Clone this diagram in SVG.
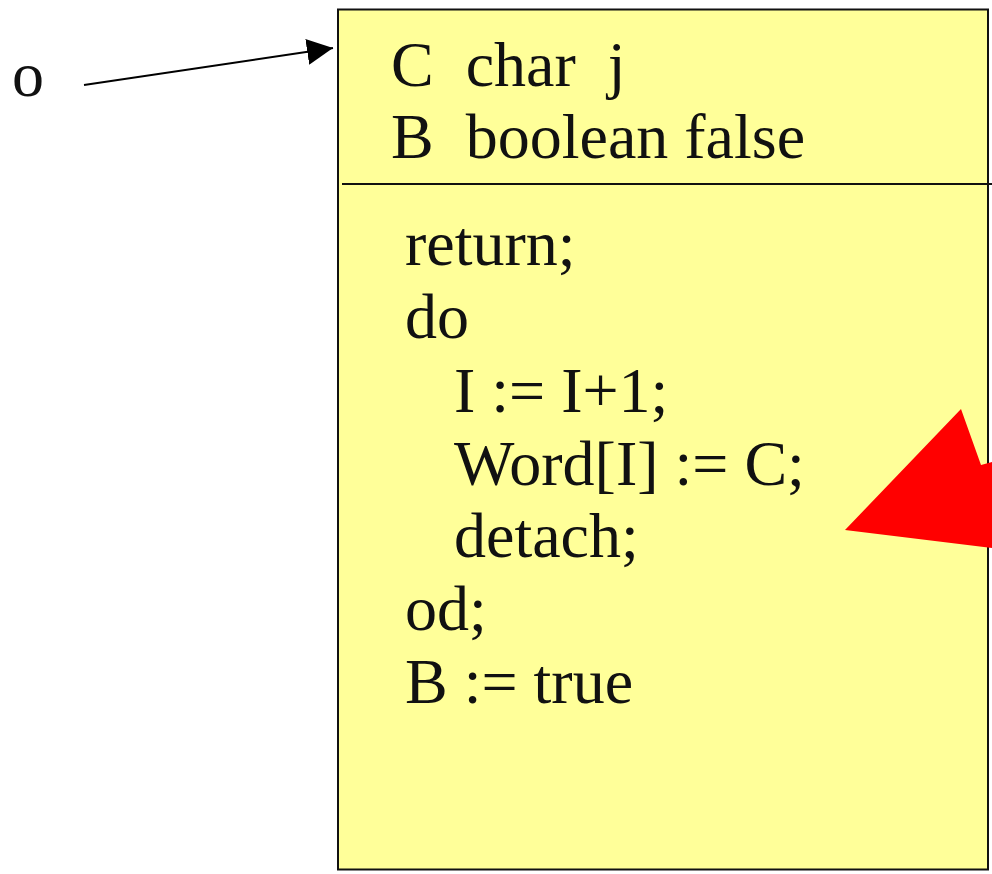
<svg xmlns="http://www.w3.org/2000/svg" width="992" height="874" viewBox="0 0 992 874">
<style>
text{font-family:"Liberation Serif","Times New Roman",serif;font-size:64px;fill:#111;white-space:pre}
.box{fill:#ffff99;stroke:#111;stroke-width:2}
.conn{stroke:#000;stroke-width:2;fill:none}
</style>
<defs>
<marker id="ah2" viewBox="0 0 26 26" markerWidth="26" markerHeight="26" refX="26" refY="13" orient="auto" markerUnits="userSpaceOnUse">
<path d="M0,0 L26,13 L0,26 Z" fill="#000"/>
</marker>
</defs>
<g id="label-o"><text x="12" y="96" xml:space="preserve">o</text></g>
<g id="object">
<rect class="box" x="338" y="9.5" width="650" height="860"/>
<line x1="342" y1="184" x2="992" y2="184" stroke="#111" stroke-width="2"/>
<text x="391" y="86" xml:space="preserve">C  char  j</text>
<text x="391" y="158" xml:space="preserve">B  boolean false</text>
<text x="405" y="265" xml:space="preserve">return;</text>
<text x="405" y="338" xml:space="preserve">do</text>
<text x="454" y="412" xml:space="preserve">I := I+1;</text>
<text x="454" y="485" xml:space="preserve">Word[I] := C;</text>
<text x="454" y="557" xml:space="preserve">detach;</text>
<text x="405" y="630" xml:space="preserve">od;</text>
<text x="405" y="703" xml:space="preserve">B := true</text>
</g>
<g id="connectors">
<line class="conn" x1="84" y1="85" x2="333" y2="48" marker-end="url(#ah2)"/>
</g>
<g id="red-arrow">
<polygon points="845,530 961,409 981,465 1000,460 1000,549" fill="#ff0000"/>
</g>
</svg>
